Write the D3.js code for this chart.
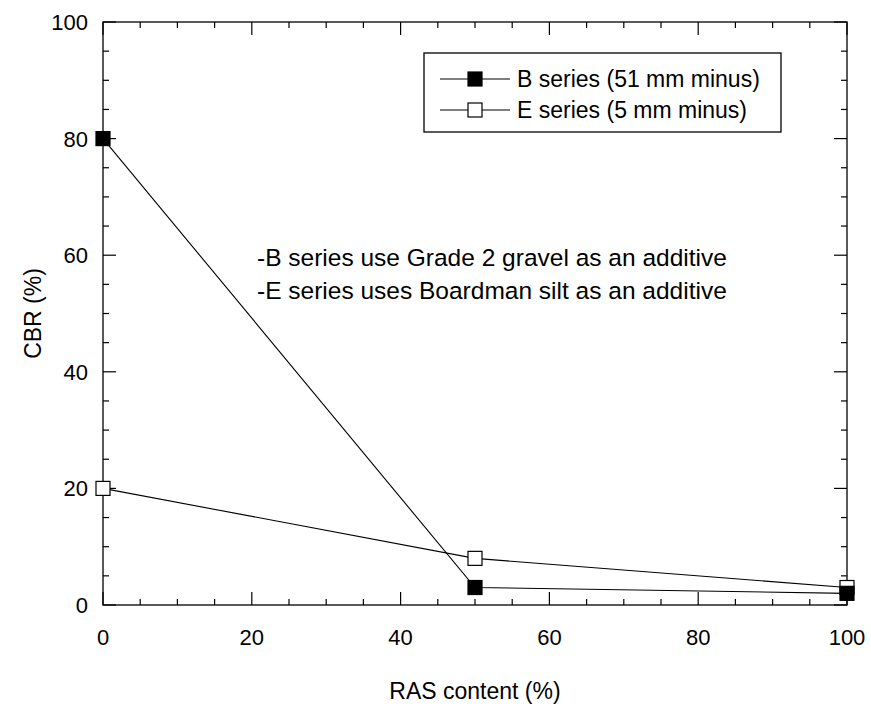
<!DOCTYPE html>
<html>
<head>
<meta charset="utf-8">
<script src="https://cdn.jsdelivr.net/npm/d3@7"></script>
<style>
  body { margin: 0; background: #fff; }
  text { font-family: "Liberation Sans", Arial, sans-serif; fill: #000; }
</style>
</head>
<body>
<svg id="chart" width="871" height="709"></svg>
<script>
// data
var rasContent = [0, 50, 100];
var bSeries = [80, 3, 2];
var eSeries = [20, 8, 3];
var seriesNames = ["B series (51 mm minus)", "E series (5 mm minus)"];
var majorTicks = [0, 20, 40, 60, 80, 100];
var notes = ["-B series use Grade 2 gravel as an additive",
             "-E series uses Boardman silt as an additive"];

var svg = d3.select("#chart");
var plotLeft = 103, plotRight = 847, plotTop = 22, plotBottom = 605;

var x = d3.scaleLinear().domain([0, 100]).range([plotLeft, plotRight]);
var y = d3.scaleLinear().domain([0, 100]).range([plotBottom, plotTop]);

var minorTicks = d3.range(0, 101, 5);

// frame
svg.append("rect")
  .attr("x", plotLeft).attr("y", plotTop)
  .attr("width", plotRight - plotLeft).attr("height", plotBottom - plotTop)
  .attr("fill", "none").attr("stroke", "#000").attr("stroke-width", 1.3);

// inward ticks on all four sides
var g = svg.append("g").attr("stroke", "#000").attr("stroke-width", 1.2);
minorTicks.forEach(function (t) {
  var len = (t % 20 === 0) ? 13 : 6;
  g.append("line").attr("x1", x(t)).attr("x2", x(t)).attr("y1", plotBottom).attr("y2", plotBottom - len);
  g.append("line").attr("x1", x(t)).attr("x2", x(t)).attr("y1", plotTop).attr("y2", plotTop + len);
  g.append("line").attr("y1", y(t)).attr("y2", y(t)).attr("x1", plotLeft).attr("x2", plotLeft + len);
  g.append("line").attr("y1", y(t)).attr("y2", y(t)).attr("x1", plotRight).attr("x2", plotRight - len);
});

// tick labels
svg.selectAll(".xl").data(majorTicks).enter().append("text")
  .attr("x", function (d) { return x(d); })
  .attr("y", 645)
  .attr("text-anchor", "middle")
  .attr("font-size", 22)
  .text(function (d) { return d; });

svg.selectAll(".yl").data(majorTicks).enter().append("text")
  .attr("x", 88)
  .attr("y", function (d) { return y(d) + 8; })
  .attr("text-anchor", "end")
  .attr("font-size", 22)
  .text(function (d) { return d; });

// axis titles
svg.append("text")
  .attr("x", (plotLeft + plotRight) / 2).attr("y", 699)
  .attr("text-anchor", "middle").attr("font-size", 23)
  .text("RAS content (%)");

svg.append("text")
  .attr("transform", "translate(41," + ((plotTop + plotBottom) / 2) + ") rotate(-90)")
  .attr("text-anchor", "middle").attr("font-size", 23)
  .text("CBR (%)");

// series
var line = d3.line()
  .x(function (d) { return x(d[0]); })
  .y(function (d) { return y(d[1]); });

var series = [
  { name: seriesNames[0], values: d3.zip(rasContent, bSeries), fill: "#000" },
  { name: seriesNames[1], values: d3.zip(rasContent, eSeries), fill: "#fff" }
];

var ms = 14;
// lines first so markers sit on top
series.forEach(function (s) {
  svg.append("path")
    .attr("d", line(s.values))
    .attr("fill", "none").attr("stroke", "#000").attr("stroke-width", 1.1);
});
series.slice().reverse().forEach(function (s) {
  svg.selectAll(null).data(s.values).enter().append("rect")
    .attr("x", function (d) { return x(d[0]) - ms / 2; })
    .attr("y", function (d) { return y(d[1]) - ms / 2; })
    .attr("width", ms).attr("height", ms)
    .attr("fill", s.fill).attr("stroke", "#000").attr("stroke-width", 1.2);
});

// legend
var lg = svg.append("g");
lg.append("rect")
  .attr("x", 424).attr("y", 53).attr("width", 357).attr("height", 79)
  .attr("fill", "#fff").attr("stroke", "#000").attr("stroke-width", 1.3);
series.forEach(function (s, i) {
  var ly = 79 + i * 31;
  lg.append("line").attr("x1", 440).attr("x2", 510).attr("y1", ly).attr("y2", ly)
    .attr("stroke", "#000").attr("stroke-width", 1.1);
  lg.append("rect").attr("x", 475 - ms / 2).attr("y", ly - ms / 2)
    .attr("width", ms).attr("height", ms)
    .attr("fill", s.fill).attr("stroke", "#000").attr("stroke-width", 1.2);
  lg.append("text").attr("x", 517).attr("y", ly + 8)
    .attr("font-size", 23).text(s.name);
});

// notes
svg.selectAll(".note").data(notes).enter().append("text")
  .attr("x", 257)
  .attr("y", function (d, i) { return 266 + i * 33; })
  .attr("font-size", 24.5)
  .text(function (d) { return d; });
</script>
</body>
</html>
